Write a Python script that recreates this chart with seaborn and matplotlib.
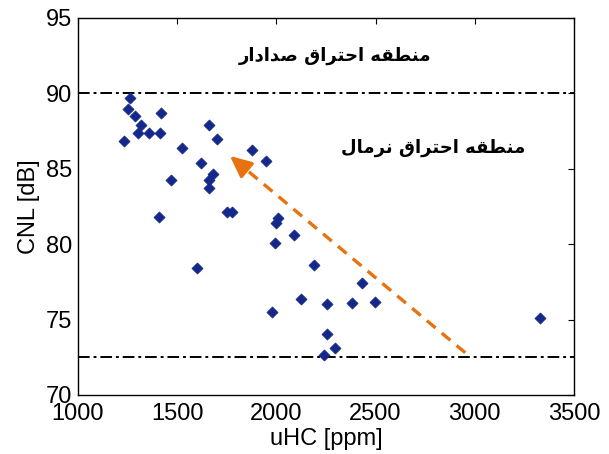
import numpy as np
import pandas as pd
import matplotlib
matplotlib.use('Agg')
import matplotlib.pyplot as plt
import seaborn as sns

# data
uhc = [1263, 1250, 1287, 1317, 1303, 1356, 1412, 1421, 1230, 1523,
       1660, 1701, 1621, 1683, 1661, 1661, 1471, 1409, 1602, 1879,
       1946, 1752, 1775, 2006, 1996, 1991, 2088, 2190, 2432, 2122,
       1979, 2253, 2382, 2499, 2253, 2298, 2242, 3329]
cnl = [89.70, 88.93, 88.49, 87.89, 87.34, 87.34, 87.34, 88.67, 86.83, 86.37,
       87.89, 86.97, 85.40, 84.65, 84.25, 83.72, 84.25, 81.82, 78.40, 86.24,
       85.53, 82.13, 82.13, 81.70, 81.40, 80.08, 80.61, 78.62, 77.40, 76.35,
       75.53, 76.04, 76.09, 76.13, 74.03, 73.11, 72.62, 75.13]
limit_levels = [90.0, 72.5]
arrow_from = (2952, 72.8)
arrow_to = (1766, 85.84)
label_knock = 'منطقه احتراق صدادار'
label_normal = 'منطقه احتراق نرمال'
xticks = [1000, 1500, 2000, 2500, 3000, 3500]
yticks = [70, 75, 80, 85, 90, 95]

# matplotlib has no arabic shaping, so pick presentation forms by hand
FORMS = {
    'م': ('\uFEE1', '\uFEE2', '\uFEE3', '\uFEE4'),
    'ن': ('\uFEE5', '\uFEE6', '\uFEE7', '\uFEE8'),
    'ط': ('\uFEC1', '\uFEC2', '\uFEC3', '\uFEC4'),
    'ق': ('\uFED5', '\uFED6', '\uFED7', '\uFED8'),
    'ه': ('\uFEE9', '\uFEEA', '\uFEEB', '\uFEEC'),
    'ا': ('\uFE8D', '\uFE8E', '\uFE8D', '\uFE8E'),
    'ح': ('\uFEA1', '\uFEA2', '\uFEA3', '\uFEA4'),
    'ت': ('\uFE95', '\uFE96', '\uFE97', '\uFE98'),
    'ر': ('\uFEAD', '\uFEAE', '\uFEAD', '\uFEAE'),
    'ص': ('\uFEB9', '\uFEBA', '\uFEBB', '\uFEBC'),
    'د': ('\uFEA9', '\uFEAA', '\uFEA9', '\uFEAA'),
    'ل': ('\uFEDD', '\uFEDE', '\uFEDF', '\uFEE0'),
}
RIGHT_ONLY = set('اداذرزوژ')


def shape(text):
    out = []
    for i, c in enumerate(text):
        if c not in FORMS:
            out.append(c)
            continue
        prev = text[i - 1] if i > 0 else ' '
        nxt = text[i + 1] if i + 1 < len(text) else ' '
        join_prev = prev in FORMS and prev not in RIGHT_ONLY
        join_next = nxt in FORMS and c not in RIGHT_ONLY
        if join_prev and join_next:
            out.append(FORMS[c][3])
        elif join_prev:
            out.append(FORMS[c][1])
        elif join_next:
            out.append(FORMS[c][2])
        else:
            out.append(FORMS[c][0])
    return ''.join(out)[::-1]


df = pd.DataFrame({'uHC': uhc, 'CNL': cnl})

sns.set_style('white')
plt.rcParams['font.family'] = ['Liberation Sans', 'DejaVu Sans']
plt.rcParams['text.color'] = 'black'
plt.rcParams['axes.labelcolor'] = 'black'

fig = plt.figure(figsize=(6.09, 4.54), dpi=100)
ax = fig.add_axes([0.128, 0.13, 0.8145, 0.831])

sns.scatterplot(data=df, x='uHC', y='CNL', ax=ax, marker='D', s=32,
                color='#14288a', edgecolor='#14288a', linewidth=0.5, zorder=3)

for lvl in limit_levels:
    ax.axhline(lvl, color='black', linewidth=1.4, dashes=(6, 2, 1.5, 2), zorder=2)

# dashed shaft + solid head
orange = '#e8730e'
ax.plot([arrow_from[0], arrow_to[0]], [arrow_from[1], arrow_to[1]],
        color=orange, linewidth=2.4, dashes=(3.4, 2.4), zorder=2)
head_start = (arrow_to[0] + 0.06 * (arrow_from[0] - arrow_to[0]),
              arrow_to[1] + 0.06 * (arrow_from[1] - arrow_to[1]))
ax.annotate('', xy=arrow_to, xytext=head_start,
            arrowprops=dict(arrowstyle='-|>,head_length=1.3,head_width=0.6',
                            color=orange, linewidth=2.4, shrinkA=0, shrinkB=0))

ax.text(2298, 92.5, shape(label_knock), ha='center', va='center',
        fontsize=13, fontweight='bold', family='DejaVu Sans', color='black')
ax.text(2791, 86.37, shape(label_normal), ha='center', va='center',
        fontsize=13, fontweight='bold', family='DejaVu Sans', color='black')

ax.set_xlim(1000, 3500)
ax.set_ylim(70, 95)
ax.set_xticks(xticks)
ax.set_yticks(yticks)
ax.set_xlabel('uHC [ppm]', fontsize=17, labelpad=2)
ax.set_ylabel('CNL [dB]', fontsize=17, labelpad=4)
ax.tick_params(direction='in', top=True, right=True, length=4, width=0.8,
               labelsize=17, pad=4, colors='black')
ax.tick_params(axis='x', pad=6)
for sp in ax.spines.values():
    sp.set_color('black')
    sp.set_linewidth(1.0)

fig.savefig('out.png', dpi=100)
